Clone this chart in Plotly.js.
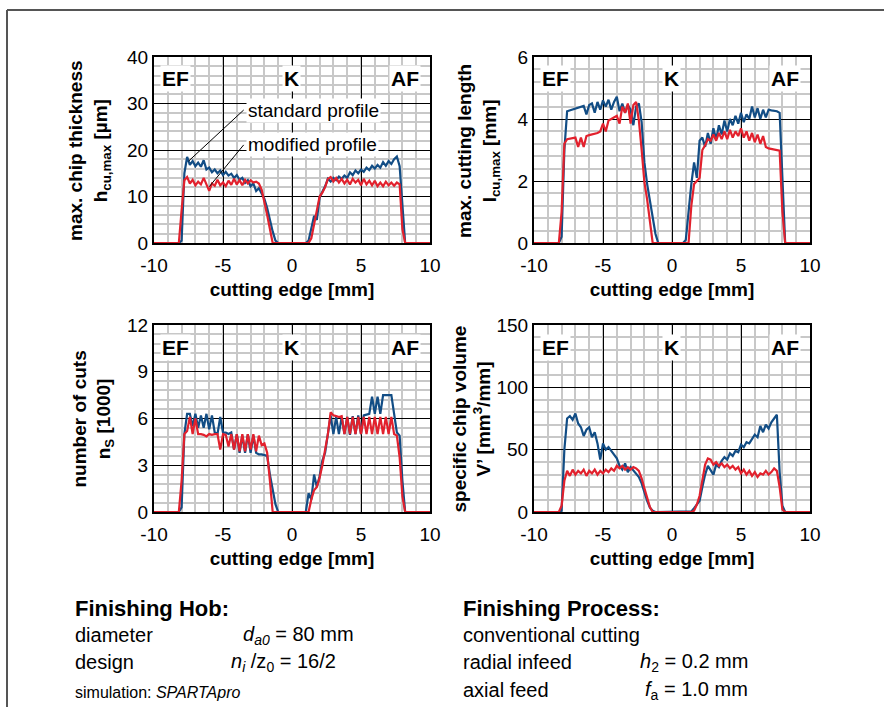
<!DOCTYPE html>
<html>
<head>
<meta charset="utf-8">
<script src="https://cdn.plot.ly/plotly-3.0.1.min.js"></script>
<style>html,body{margin:0;padding:0;background:#fff;}#chart{width:884px;height:707px;}</style>
</head>
<body>
<div id="chart"></div>
<script>
// cutting edge positions [mm]
const xs = [-10, -8.4, -8.2, -8.0, -7.8, -7.6, -7.4, -7.2, -7.0, -6.8, -6.6, -6.4, -6.2, -6.0, -5.8, -5.6, -5.4, -5.2, -5.0, -4.8, -4.6, -4.4, -4.2, -4.0, -3.8, -3.6, -3.4, -3.2, -3.0, -2.8, -2.6, -2.4, -2.2, -2.0, -1.8, -1.6, -1.4, -1.2, -1.0, -0.8,
  0.8, 1.0, 1.2, 1.4, 1.6, 1.8, 2.0, 2.2, 2.4, 2.6, 2.8, 3.0, 3.2, 3.4, 3.6, 3.8, 4.0, 4.2, 4.4, 4.6, 4.8, 5.0, 5.2, 5.4, 5.6, 5.8, 6.0, 6.2, 6.4, 6.6, 6.8, 7.0, 7.2, 7.4, 7.6, 7.8, 8.0, 8.2, 8.4, 10];

// max. chip thickness h_cu,max [µm]
const hStandard = [0,
  0,0,0.5,15,18.5,16.8,17.6,16.5,17.3,16.4, 17.8,15.8,16.2,15.2,15.8,15.0,15.6,14.6,15.3,14.5, 14.9,14.0,14.6,13.6,14.0,12.9,13.5,12.2,12.8,11.2, 11.8,10.8,9.5,7.5,4.8,2.5,0.5,0,0,
  0,0,0.5,3.0,5.8,5.0,9.8,11.0,12.2,13.8, 13.2,14.0,13.5,14.3,13.8,14.5,14.0,15.2,14.6,15.6, 15.0,15.8,15.3,16.2,15.7,16.6,16.0,16.8,16.2,17.4, 16.6,17.6,17.0,18.0,18.6,16.5,7,0,0,
  0];
const hModified = [0,
  0,0,7,13.5,14.2,12.8,13.6,12.4,13.2,12.6, 14.0,12.5,11.2,12.8,12.3,13.6,12.4,13.0,12.2,13.4, 12.5,13.8,12.6,13.5,12.4,13.6,12.8,13.5,13.0,13.2, 12.8,11.5,9.0,6.0,3.0,0,0,0,0,
  0,0,0,1.0,4.0,7.5,10.0,10.8,12.0,13.8, 14.2,13.2,14.0,13.0,13.8,12.8,13.6,12.6,13.8,13.0, 13.6,12.4,13.8,12.6,13.4,12.4,13.4,12.2,13.0,12.2, 13.2,12.4,13.0,12.3,13.0,12.6,3.0,0,0,
  0];

// max. cutting length l_cu,max [mm]
const lStandard = [0,
  0,0,0.2,3.0,4.25,4.28,4.3,4.33,4.35,4.38, 4.42,4.15,4.45,4.5,4.2,4.55,4.3,4.6,4.4,4.62, 4.3,4.55,4.72,4.25,4.5,4.2,4.45,4.3,3.8,4.4, 4.5,3.9,2.6,1.9,1.4,0.8,0.3,0,0,
  0,0.1,1.1,1.9,2.6,2.1,3.3,3.4,3.1,3.55, 3.2,3.7,3.35,3.8,3.5,3.95,3.6,4.0,3.8,4.1, 3.85,4.2,3.9,4.15,4.0,4.4,4.05,4.35,4.0,4.3, 4.05,4.3,4.28,4.26,4.25,4.2,2.0,0,0,
  0];
const lModified = [0,
  0,0,1.0,3.2,3.35,3.37,3.38,3.4,3.1,3.4, 3.1,3.45,3.48,3.5,3.52,3.55,3.6,3.85,3.6,3.95, 4.0,4.05,4.1,3.85,4.4,4.2,4.5,3.85,4.45,4.55, 3.95,3.0,1.96,1.4,0.7,0,0,0,0,
  0,0,0,1.2,1.9,2.0,2.1,3.0,3.15,3.35, 3.3,3.5,3.3,3.55,3.35,3.6,3.35,3.65,3.4,3.6, 3.45,3.7,3.4,3.6,3.3,3.55,3.25,3.5,3.2,3.45, 3.1,3.05,3.03,3.0,3.0,2.98,1.0,0,0,
  0];

// number of cuts n_S [1000]
const nStandard = [0,
  0,0,0.3,5.0,6.3,6.3,5.5,6.3,5.4,6.2, 5.4,6.3,5.3,6.2,5.1,5.0,6.1,5.1,5.1,5.0, 5.1,4.0,5.0,3.8,4.9,3.8,5.0,3.8,4.9,3.8, 3.7,3.7,3.65,3.6,2.4,1.5,0.5,0,0,
  0,0,1.2,0.8,2.4,1.6,2.3,3.3,3.8,5.0, 6.2,5.0,6.1,5.0,6.1,5.0,6.1,4.95,6.15,5.0, 6.2,5.0,6.2,6.25,6.3,7.4,6.3,7.4,6.3,7.5, 7.5,7.5,7.5,6.3,5.1,4.9,2.0,0,0,
  0];
const nModified = [0,
  0,0,2.0,5.0,5.2,6.1,5.0,6.0,5.0,5.0, 4.95,4.85,5.0,4.95,5.0,5.0,4.0,5.0,4.95,4.2, 5.0,4.0,5.0,3.9,5.0,3.9,5.0,4.0,5.0,3.9, 4.9,4.3,4.4,3.8,2.0,0,0,0,0,
  0,0,0,0.8,1.4,1.6,2.2,3.0,4.0,5.0, 6.4,6.2,6.15,6.1,6.15,5.0,6.1,5.0,6.1,5.0, 6.1,5.0,6.1,5.0,6.1,5.0,6.1,5.0,6.1,5.0, 6.1,5.0,6.1,5.0,4.9,3.5,1.0,0,0,
  0];

// specific chip volume V' [mm³/mm]
const vStandard = [0,
  0,0,1,50,75,77,74,79,71,68, 61,66,68,60,64,55,42,55,50,52, 49,46,43,37,34,39,32,36,33,30, 28,23,15,9,3.5,1,0,0,0,
  0,0,0,0.5,3,6,9,20,30,37, 34,30,38,36,41,44,42,47,45,49, 48,54,52,56,55,59,62,60,69,64, 70,67,72,75,78,32,5,0,0,
  0];
const vModified = [0,
  0,0,5,25,33,29,34,30,33,31, 34,29,33,31,34,30,33,31,34,32, 35,33,37,35,37,34,36,34,36,35, 33,27,19,11,4,0,0,0,0,
  0,0,0,0,1,6,13,24,38,43, 42,38,40,37,39,36,38,35,37,34, 36,31,34,30,33,29,32,28,31,30, 33,30,32,35,33,20,2,0,0,
  0];

const xTickVals = [-10, -5, 0, 5, 10];
const xTickText = ['-10', '-5', '0', '5', '10'];
const regionLabels = ['EF', 'K', 'AF'];
const yTitles = [
  '<b>max. chip thickness<br>h<sub>cu,max</sub> [µm]</b>',
  '<b>max. cutting length<br>l<sub>cu,max</sub> [mm]</b>',
  '<b>number of cuts<br>n<sub>S</sub> [1000]</b>',
  '<b>specific chip volume<br>V\u2019 [mm<sup>3</sup>/mm]</b>'
];
const yRanges = [[0, 40], [0, 6], [0, 12], [0, 150]];
const yMajor = [10, 2, 3, 50];
const yMinor = [2, 0.4, 0.6, 10];

const BLUE = '#124d85', RED = '#e2212d';
const W = 884, H = 707;
const px = v => v / W, py = v => 1 - v / H;

const panels = [
  {std: hStandard, mod: hModified, xd: [154, 430], yd: [243, 57], titleX: 90},
  {std: lStandard, mod: lModified, xd: [534, 810], yd: [243, 57], titleX: 479},
  {std: nStandard, mod: nModified, xd: [154, 430], yd: [512, 325], titleX: 93},
  {std: vStandard, mod: vModified, xd: [534, 810], yd: [512, 325], titleX: 471}
];

const traces = [];
const layout = {
  width: W, height: H,
  margin: {l: 0, r: 0, t: 0, b: 0},
  paper_bgcolor: '#fff', plot_bgcolor: '#fff',
  showlegend: false,
  font: {family: 'Liberation Sans, Arial, sans-serif', color: '#000', size: 19},
  annotations: [], shapes: []
};

panels.forEach((p, i) => {
  const n = i + 1;
  const xa = 'x' + (n === 1 ? '' : n), ya = 'y' + (n === 1 ? '' : n);
  traces.push({x: xs, y: p.std, xaxis: xa, yaxis: ya, type: 'scatter', mode: 'lines',
    line: {color: BLUE, width: 2.2}, name: 'standard profile', hoverinfo: 'skip'});
  traces.push({x: xs, y: p.mod, xaxis: xa, yaxis: ya, type: 'scatter', mode: 'lines',
    line: {color: RED, width: 2.2}, name: 'modified profile', hoverinfo: 'skip'});
  layout['xaxis' + (n === 1 ? '' : n)] = {
    domain: [px(p.xd[0]), px(p.xd[1])], anchor: ya, range: [-10, 10],
    tickvals: xTickVals, ticktext: xTickText, ticks: '', ticklabelstandoff: 4,
    showgrid: true, gridcolor: '#000', gridwidth: 1,
    minor: {dtick: 1, tick0: 0, showgrid: true, gridcolor: '#c8c8c8', gridwidth: 2, ticks: ''},
    showline: true, mirror: true, linecolor: '#000', linewidth: 2, zeroline: false,
    tickfont: {size: 19}, automargin: false, fixedrange: true,
    title: {text: '<b>cutting edge [mm]</b>', font: {size: 19}, standoff: 8}
  };
  layout['yaxis' + (n === 1 ? '' : n)] = {
    domain: [py(p.yd[0]), py(p.yd[1])], anchor: xa, range: yRanges[i],
    dtick: yMajor[i], tick0: 0, ticks: '',
    showgrid: true, gridcolor: '#000', gridwidth: 1,
    minor: {dtick: yMinor[i], tick0: 0, showgrid: true, gridcolor: '#c8c8c8', gridwidth: 2, ticks: ''},
    showline: true, mirror: true, linecolor: '#000', linewidth: 2, zeroline: false,
    tickfont: {size: 19}, automargin: false, fixedrange: true
  };
  // region labels
  [[0.079, 0], [0.497, 1], [0.909, 2]].forEach(([xx, k]) => {
    layout.annotations.push({xref: xa + ' domain', yref: ya + ' domain', x: xx, y: 0.882,
      text: '<b>' + regionLabels[k] + '</b>', showarrow: false, bgcolor: '#fff',
      font: {size: 21}, borderpad: 1, xanchor: 'center', yanchor: 'middle'});
  });
  // y axis title
  layout.annotations.push({xref: 'paper', yref: 'paper', x: px(p.titleX),
    y: py((p.yd[0] + p.yd[1]) / 2 + 1), text: yTitles[i], textangle: -90, showarrow: false,
    font: {size: 19}, xanchor: 'center', yanchor: 'middle'});
});

// legend callouts in first panel
layout.annotations.push({xref: 'x', yref: 'y', x: -3.35, y: 28.5, text: 'standard profile', showarrow: false,
  bgcolor: '#fff', font: {size: 19}, xanchor: 'left', yanchor: 'middle', borderpad: 1});
layout.annotations.push({xref: 'x', yref: 'y', x: -3.35, y: 21.1, text: 'modified profile', showarrow: false,
  bgcolor: '#fff', font: {size: 19}, xanchor: 'left', yanchor: 'middle', borderpad: 1});
layout.shapes.push({type: 'line', xref: 'x', yref: 'y', x0: -7.5, y0: 17.6, x1: -3.5, y1: 28.6, line: {color: '#000', width: 1}});
layout.shapes.push({type: 'line', xref: 'x', yref: 'y', x0: -6.0, y0: 12.1, x1: -3.5, y1: 21.1, line: {color: '#000', width: 1}});

// outer frame
layout.shapes.push({type: 'line', xref: 'paper', yref: 'paper', x0: px(7), y0: py(10), x1: 1, y1: py(10), line: {color: '#555', width: 2}});
layout.shapes.push({type: 'line', xref: 'paper', yref: 'paper', x0: px(7), y0: py(10), x1: px(7), y1: 0, line: {color: '#555', width: 2}});

// parameter notes: [x, y, text, size, anchor]
const notes = [
  [73, 608, '<b>Finishing Hob:</b>', 22, 'left'],
  [73, 635, 'diameter', 20, 'left'],
  [356, 635, '<i>d</i><sub><i>a0</i></sub> = 80 mm', 20, 'right'],
  [73, 662, 'design', 20, 'left'],
  [338, 662, '<i>n</i><sub><i>i</i></sub> /z<sub>0</sub> = 16/2', 20, 'right'],
  [73, 692, 'simulation: <i>SPARTApro</i>', 16, 'left'],
  [461, 608, '<b>Finishing Process:</b>', 22, 'left'],
  [461, 635, 'conventional cutting', 20, 'left'],
  [461, 662, 'radial infeed', 20, 'left'],
  [750, 662, '<i>h</i><sub>2</sub> = 0.2 mm', 20, 'right'],
  [461, 690, 'axial feed', 20, 'left'],
  [750, 690, '<i>f</i><sub>a</sub> = 1.0 mm', 20, 'right']
];
notes.forEach(([x, y, t, s, a]) => {
  layout.annotations.push({xref: 'paper', yref: 'paper', x: px(x), y: py(y), text: t, showarrow: false,
    font: {size: s}, xanchor: a, yanchor: 'middle'});
});

Plotly.newPlot('chart', traces, layout, {displayModeBar: false, staticPlot: true});
</script>
</body>
</html>
